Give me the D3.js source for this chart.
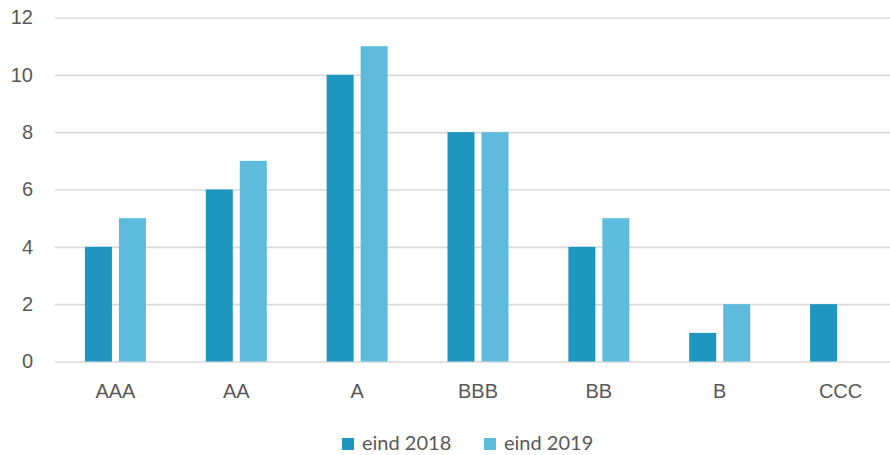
<!DOCTYPE html>
<html>
<head>
<meta charset="utf-8">
<script src="https://cdn.jsdelivr.net/npm/d3@7"></script>
<style>
  body { margin: 0; background: #fff; }
  svg { display: block; font-family: Lato, "Open Sans", sans-serif; }
</style>
</head>
<body>
<div id="chart"></div>
<script>
// data
const categories = ["AAA", "AA", "A", "BBB", "BB", "B", "CCC"];
const seriesNames = ["eind 2018", "eind 2019"];
const values2018 = [4, 6, 10, 8, 4, 1, 2];
const values2019 = [5, 7, 11, 8, 5, 2, 0];
const yTicks = [0, 2, 4, 6, 8, 10, 12];
const colors = ["#1f96c0", "#5ebbdb"];

const width = 890, height = 455;
const plotLeft = 55, plotRight = 901, plotTop = 17.5, plotBottom = 361.5;

const svg = d3.select("#chart")
    .append("svg")
    .attr("width", width)
    .attr("height", height);

const x = d3.scaleBand()
    .domain(categories)
    .range([plotLeft, plotRight])
    .paddingInner(0)
    .paddingOuter(0);

const y = d3.scaleLinear()
    .domain([0, 12])
    .range([plotBottom, plotTop]);

// gridlines
const yAxis = d3.axisLeft(y)
    .tickValues(yTicks)
    .tickSize(-(width - plotLeft))
    .tickPadding(22);

const gy = svg.append("g")
    .attr("transform", `translate(${plotLeft},0)`)
    .call(yAxis);
gy.select(".domain").remove();
gy.selectAll(".tick line")
    .attr("stroke", "#d9d9d9")
    .attr("stroke-width", 1.6);
gy.selectAll(".tick text")
    .attr("fill", "#595959")
    .style("font-size", "20px");

// bars
const series = [values2018, values2019];
const barW = 27, gap = 7;
const groupW = barW * 2 + gap;

const groups = svg.append("g");
series.forEach((vals, si) => {
    groups.selectAll(".bar" + si)
        .data(vals.map((v, i) => ({cat: categories[i], v: v})))
        .enter()
        .append("rect")
        .attr("x", d => x(d.cat) + (x.bandwidth() - groupW) / 2 + si * (barW + gap))
        .attr("y", d => y(d.v))
        .attr("width", barW)
        .attr("height", d => y(0) - y(d.v))
        .attr("fill", colors[si]);
});

// x labels
const xAxis = d3.axisBottom(x).tickSize(0).tickPadding(22);
const gx = svg.append("g")
    .attr("transform", `translate(0,${plotBottom})`)
    .call(xAxis);
gx.select(".domain").remove();
gx.selectAll(".tick text")
    .attr("fill", "#595959")
    .style("font-size", "20px");

// legend
const legendX = [342, 484];
const legend = svg.append("g");
seriesNames.forEach((name, i) => {
    legend.append("rect")
        .attr("x", legendX[i])
        .attr("y", 438)
        .attr("width", 12)
        .attr("height", 12)
        .attr("fill", colors[i]);
    legend.append("text")
        .attr("x", legendX[i] + 20)
        .attr("y", 450)
        .attr("fill", "#595959")
        .style("font-size", "20px")
        .text(name);
});
</script>
</body>
</html>
